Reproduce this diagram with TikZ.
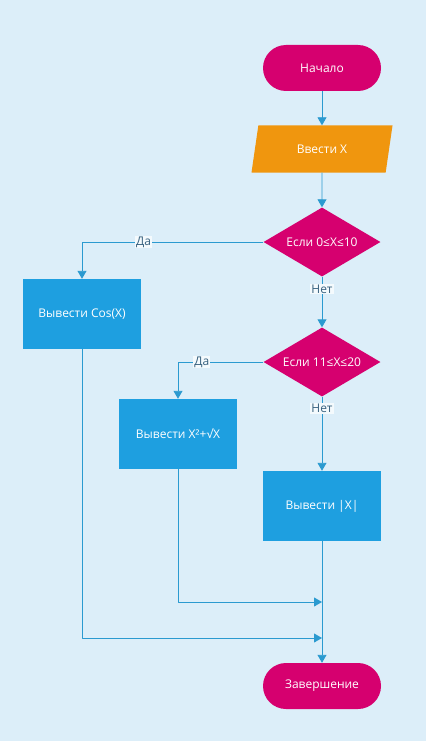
\documentclass[tikz,border=0pt]{standalone}
\usepackage{fontspec}
\setmainfont{Open Sans}
\usetikzlibrary{shapes.geometric,arrows.meta}
\definecolor{bgblue}{HTML}{DCEEF9}
\definecolor{termred}{HTML}{D6006F}
\definecolor{inorange}{HTML}{F0960E}
\definecolor{procblue}{HTML}{1E9FE0}
\definecolor{linkblue}{HTML}{2B9AD0}
\definecolor{lbltext}{HTML}{37617F}
\begin{document}
\begin{tikzpicture}[x=1pt, y=-1pt, font=\fontsize{12}{14}\selectfont, line join=round, >={Triangle[width=9pt,length=8pt]},
    term/.style={rectangle, rounded corners=23pt, minimum width=118, minimum height=46, fill=termred, text=white},
    io/.style={trapezium, trapezium left angle=66, trapezium right angle=114, trapezium stretches body, minimum width=141, minimum height=47, fill=inorange, text=white},
    cond/.style={diamond, aspect=1.7, inner sep=0pt, minimum width=117, minimum height=69, fill=termred, text=white},
    proc/.style={rectangle, minimum width=118, minimum height=70, fill=procblue, text=white},
    link/.style={draw=linkblue, line width=0.9pt, ->},
    lbl/.style={fill=bgblue!30!white, text=lbltext, inner sep=1pt}]
    \fill[bgblue] (0,0) rectangle (426,741);
    \useasboundingbox (0,0) rectangle (426,741);
    \node[term] (start) at (322,68) {Начало};
    \node[io] (inp) at (322,149) {Ввести X};
    \node[cond] (c1) at (322,242) {Если 0≤X≤10};
    \node[proc] (cos) at (82,314) {Вывести Cos(X)};
    \node[cond] (c2) at (322,362) {Если 11≤X≤20};
    \node[proc] (root) at (178,434) {Вывести X²+√X};
    \node[proc] (abs) at (322,506) {Вывести |X|};
    \node[term] (stop) at (322,686) {Завершение};
    \coordinate (j1) at (322,602);
    \coordinate (j2) at (322,638);
    \draw[link] (start) -- (inp);
    \draw[link] (inp) -- (c1);
    \draw[link] (c1.west) -| node[lbl,pos=.33] {Да} (cos.north);
    \draw[link] (c1) -- node[lbl,pos=.24] {Нет} (c2);
    \draw[link] (c2.west) -| node[lbl,pos=.36] {Да} (root.north);
    \draw[link] (c2) -- node[lbl,pos=.16] {Нет} (abs);
    \draw[link] (abs) -- (stop);
    \foreach \b/\j in {root/j1, cos/j2}
        \draw[link] (\b) |- (\j);
\end{tikzpicture}
\end{document}
